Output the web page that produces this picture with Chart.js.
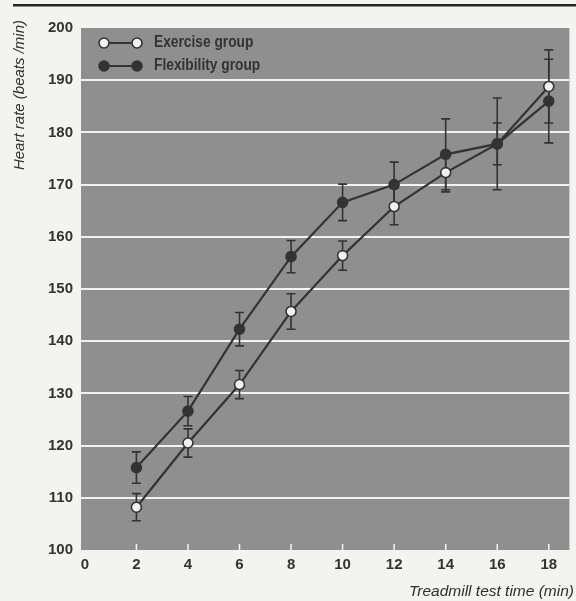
<!DOCTYPE html>
<html>
<head>
<meta charset="utf-8">
<script src="https://cdn.jsdelivr.net/npm/chart.js@4.4.1/dist/chart.umd.min.js"></script>
<style>
    html, body { margin: 0; padding: 0; background: #f3f3ef; }
    #wrap { position: relative; width: 576px; height: 601px; }
</style>
</head>
<body>
<div id="wrap"><canvas id="chart"></canvas></div>
<script>
const times = [2, 4, 6, 8, 10, 12, 14, 16, 18];
const xTicks = [0, 2, 4, 6, 8, 10, 12, 14, 16, 18];
const yTicks = [100, 110, 120, 130, 140, 150, 160, 170, 180, 190, 200];

const exerciseHR = [108.2, 120.5, 131.7, 145.7, 156.4, 165.8, 172.3, 177.8, 188.8];
const exerciseErr = [2.6, 2.7, 2.7, 3.4, 2.8, 3.5, 3.7, 4.0, 7.0];
const flexibilityHR = [115.8, 126.6, 142.3, 156.2, 166.6, 170.0, 175.8, 177.8, 186.0];
const flexibilityErr = [3.0, 2.8, 3.2, 3.1, 3.5, 4.3, 6.8, 8.8, 8.0];

const seriesNames = ["Exercise group", "Flexibility group"];
const yTitle = "Heart rate (beats /min)";
const xTitle = "Treadmill test time (min)";

const INK = "#333333";
const FONT = "'Liberation Sans', Arial, sans-serif";

const toPoints = vals => vals.map((v, i) => ({ x: times[i], y: v }));

// draws text squeezed sideways, to get the condensed look of the original
function narrowText(ctx, text, x, y, squeeze) {
    ctx.save();
    ctx.translate(x, y);
    ctx.scale(squeeze, 1);
    ctx.fillText(text, 0, 0);
    ctx.restore();
}

const decorPlugin = {
    id: "decor",
    beforeDraw(chart) {
        const { ctx, chartArea: a } = chart;
        ctx.save();
        ctx.fillStyle = "#262626";
        ctx.fillRect(13, 4, 563, 2.5);
        ctx.fillStyle = "#8f8f8f";
        ctx.fillRect(a.left, a.top, a.right - a.left, a.bottom - a.top);
        ctx.restore();
    },
    beforeDatasetsDraw(chart) {
        const { ctx, chartArea: a, scales } = chart;
        ctx.save();
        // little white ticks sitting inside the bottom edge
        ctx.strokeStyle = "#f4f4f4";
        ctx.lineWidth = 1.5;
        xTicks.filter(t => t > 0).forEach(t => {
            const x = scales.x.getPixelForValue(t);
            ctx.beginPath();
            ctx.moveTo(x, a.bottom);
            ctx.lineTo(x, a.bottom - 6);
            ctx.stroke();
        });
        // error bars
        ctx.strokeStyle = INK;
        ctx.lineWidth = 1.6;
        chart.data.datasets.forEach((ds, i) => {
            const meta = chart.getDatasetMeta(i);
            meta.data.forEach((el, j) => {
                const v = ds.data[j].y, e = ds.errors[j];
                const yT = scales.y.getPixelForValue(v + e);
                const yB = scales.y.getPixelForValue(v - e);
                ctx.beginPath();
                ctx.moveTo(el.x, yT); ctx.lineTo(el.x, yB);
                ctx.moveTo(el.x - 4.5, yT); ctx.lineTo(el.x + 4.5, yT);
                ctx.moveTo(el.x - 4.5, yB); ctx.lineTo(el.x + 4.5, yB);
                ctx.stroke();
            });
        });
        ctx.restore();
    },
    afterDraw(chart) {
        const { ctx } = chart;
        ctx.save();
        const rows = [
            { label: seriesNames[0], fill: "#f0f0f0", y: 43 },
            { label: seriesNames[1], fill: INK, y: 66 }
        ];
        rows.forEach(r => {
            ctx.strokeStyle = INK;
            ctx.lineWidth = 2.2;
            ctx.beginPath();
            ctx.moveTo(104, r.y); ctx.lineTo(137, r.y);
            ctx.stroke();
            [104, 137].forEach(cx => {
                ctx.beginPath();
                ctx.arc(cx, r.y, 5, 0, Math.PI * 2);
                ctx.fillStyle = r.fill;
                ctx.fill();
                ctx.lineWidth = 1.6;
                ctx.stroke();
            });
            ctx.fillStyle = INK;
            ctx.font = `bold 16px ${FONT}`;
            ctx.textAlign = "left";
            ctx.textBaseline = "middle";
            narrowText(ctx, r.label, 154, r.y, 0.86);
        });
        // axis titles
        ctx.fillStyle = "#2e2e2e";
        ctx.font = `italic 15px ${FONT}`;
        ctx.save();
        ctx.translate(20, 20);
        ctx.rotate(-Math.PI / 2);
        ctx.textAlign = "right";
        ctx.textBaseline = "middle";
        ctx.fillText(yTitle, 0, 0);
        ctx.restore();
        ctx.font = `italic 15.5px ${FONT}`;
        ctx.textAlign = "right";
        ctx.textBaseline = "middle";
        ctx.fillText(xTitle, 574, 592);
        ctx.restore();
    }
};

new Chart(document.getElementById("chart"), {
    type: "line",
    data: {
        datasets: [
            {
                label: seriesNames[0],
                data: toPoints(exerciseHR),
                errors: exerciseErr,
                borderColor: INK,
                borderWidth: 2.2,
                pointRadius: 5,
                pointBorderWidth: 1.6,
                pointBackgroundColor: "#f0f0f0",
                pointBorderColor: INK,
                order: 1
            },
            {
                label: seriesNames[1],
                data: toPoints(flexibilityHR),
                errors: flexibilityErr,
                borderColor: INK,
                borderWidth: 2.2,
                pointRadius: 5,
                pointBorderWidth: 1.6,
                pointBackgroundColor: INK,
                pointBorderColor: INK,
                order: 0
            }
        ]
    },
    options: {
        responsive: true,
        maintainAspectRatio: false,
        animation: false,
        layout: { padding: { top: 28, right: 4, left: 0, bottom: 0 } },
        plugins: { legend: { display: false }, tooltip: { enabled: false } },
        scales: {
            x: {
                type: "linear",
                min: -0.15,
                max: 18.8,
                afterBuildTicks: s => { s.ticks = xTicks.map(v => ({ value: v })); },
                afterFit: s => { s.height = 51; },
                grid: { display: false, drawTicks: false },
                border: { display: false },
                ticks: {
                    color: INK,
                    padding: 6,
                    maxRotation: 0,
                    autoSkip: false,
                    font: { family: FONT, size: 15, weight: "bold" },
                    callback: v => String(v)
                }
            },
            y: {
                min: 100,
                max: 200,
                afterBuildTicks: s => { s.ticks = yTicks.map(v => ({ value: v })); },
                afterFit: s => { s.width = 81; },
                grid: {
                    drawTicks: false,
                    lineWidth: 2,
                    color: c => (c.tick && (c.tick.value === 100 || c.tick.value === 200)) ? "rgba(0,0,0,0)" : "#f2f2f2"
                },
                border: { display: false },
                ticks: {
                    color: INK,
                    padding: 8,
                    autoSkip: false,
                    font: { family: FONT, size: 15, weight: "bold" },
                    callback: v => String(v)
                }
            }
        }
    },
    plugins: [decorPlugin]
});
</script>
</body>
</html>
